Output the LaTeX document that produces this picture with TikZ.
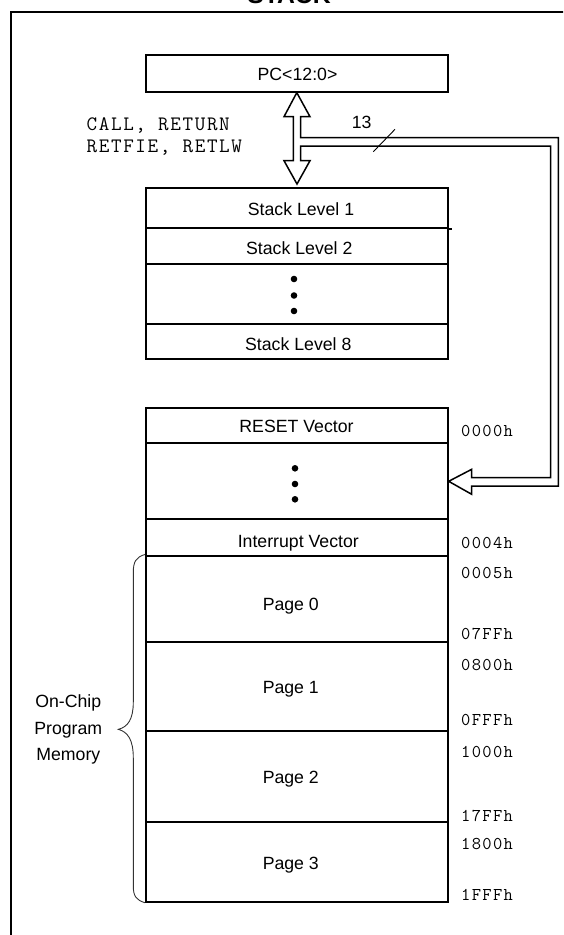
\documentclass[tikz,border=0pt]{standalone}
\usepackage{fontspec}
\setmainfont{Liberation Sans}
\newfontfamily\monofont{Latin Modern Mono}[LetterSpace=7.5]
\newfontfamily\codefont{Latin Modern Mono}[LetterSpace=8]
\newfontfamily\boldsans{Liberation Sans Bold}
\begin{document}
\begin{tikzpicture}[x=1pt,y=-1pt,
  cell/.style={draw, line width=2pt, minimum width=301.7pt, inner sep=0pt},
  lbl/.style={font=\fontsize{17.7}{21}\selectfont, anchor=base, inner sep=0pt},
  addr/.style={font=\monofont\fontsize{18}{21}\selectfont, anchor=base west, inner sep=0pt},
  code/.style={font=\codefont\fontsize{20.5}{22}\selectfont, anchor=base west, inner sep=0pt},
  bus/.style={draw, fill=white, line width=1.5pt, line join=miter},
  dot/.style={fill=black}]
\useasboundingbox (0,0) rectangle (563,935);
\clip (0,0) rectangle (563,935);
% frame and title
\draw[line width=2pt] (11,940) -- (11,11.5) -- (570,11.5);
\node[font=\boldsans\fontsize{24.7}{28}\selectfont, anchor=base, inner sep=0pt] (title) at (289,3.5) {STACK};
% PC
\node[cell, minimum height=36.7pt] (pc) at (296.8,73.3) {};
\node[lbl] (pct) at (297.5,80.6) {PC<12:0>};
% stack
\node[cell, minimum height=40.2pt] (s1) at (296.8,207.6) {};
\node[cell, minimum height=36.6pt] (s2) at (296.8,246) {};
\node[cell, minimum height=59.7pt] (sd) at (296.8,294.15) {};
\node[cell, minimum height=35pt] (s8) at (296.8,341.5) {};
\draw[line width=2pt] (s1.south east) -- ++(3,0);
\node[lbl] (s1t) at (301,215.3) {Stack Level 1};
\node[lbl] (s2t) at (299.3,254.6) {Stack Level 2};
\node[lbl] (s8t) at (298.3,350.3) {Stack Level 8};
\fill[dot] (294,279) circle (3.3) (294,295.5) circle (3.3) (294,311) circle (3.3);
% memory
\node[cell, minimum height=35pt] (m0) at (296.8,425.8) {};
\node[cell, minimum height=76pt] (md) at (296.8,481.3) {};
\node[cell, minimum height=36.2pt] (mi) at (296.8,537.4) {};
\node[cell, minimum height=86.2pt] (p0) at (296.8,598.6) {};
\node[cell, minimum height=89pt] (p1) at (296.8,686.2) {};
\node[cell, minimum height=91.3pt] (p2) at (296.8,776.35) {};
\node[cell, minimum height=79.7pt] (p3) at (296.8,861.85) {};
\node[lbl] (m0t) at (296.5,432.8) {RESET Vector};
\node[lbl] (mit) at (298.3,547) {Interrupt Vector};
\node[lbl] (p0t) at (290.8,610.3) {Page 0};
\node[lbl] (p1t) at (290.8,693) {Page 1};
\node[lbl] (p2t) at (290.8,783) {Page 2};
\node[lbl] (p3t) at (290.8,869.6) {Page 3};
\fill[dot] (295,468.3) circle (3.3) (295,484) circle (3.3) (295,499.3) circle (3.3);
% addresses
\node[addr] (a1) at (461,436.7) {0000h};
\node[addr] (a2) at (461,548.3) {0004h};
\node[addr] (a3) at (461,578) {0005h};
\node[addr] (a4) at (461,639) {07FFh};
\node[addr] (a5) at (461,670) {0800h};
\node[addr] (a6) at (461,725.7) {0FFFh};
\node[addr] (a7) at (461,757) {1000h};
\node[addr] (a8) at (461,821.7) {17FFh};
\node[addr] (a9) at (461,849) {1800h};
\node[addr] (a10) at (461,900) {1FFFh};
% instruction labels
\node[code] (c1) at (86.5,130.8) {CALL, RETURN};
\node[code] (c2) at (86.5,152.5) {RETFIE, RETLW};
% bus arrows
\coordinate (tipA) at (pc.south);
\coordinate (tipC) at (md.east);
\path[bus] (tipA) -- (310,116.7) -- (300.7,116.7) -- (300.7,137.7) -- (558.3,137.7)
  -- (558.3,486) -- (471.7,486) -- (471.7,494.3) -- (tipC) -- (471.7,469.3)
  -- (471.7,477.7) -- (550.7,477.7) -- (550.7,146) -- (300.7,146) -- (300.7,160.7)
  -- (310,160.7) -- (297,184) -- (284,160.7) -- (293.3,160.7) -- (293.3,116.7)
  -- (284,116.7) -- cycle;
\coordinate (sl1) at (373.3,151.7);
\coordinate (sl2) at (395,129.3);
\draw[line width=0.9pt] (sl1) -- (sl2);
\node[lbl] (w13) at (361.7,128) {13};
% brace
\draw[line width=0.9pt, black!80] (p0.north west) .. controls (136,557) and (133.3,562) .. (133.3,572)
  -- (133.3,702) .. controls (133.3,719) and (128,727) .. (118.3,729.3)
  .. controls (128,732) and (133.3,740) .. (133.3,758)
  -- (133.3,886) .. controls (133.3,896) and (136,900) .. (p3.south west);
\node[font=\fontsize{17.7}{26.8}\selectfont, align=center, inner sep=0pt] (ocpm) at (68.3,729.5) {On-Chip\\Program\\Memory};
\end{tikzpicture}
\end{document}
